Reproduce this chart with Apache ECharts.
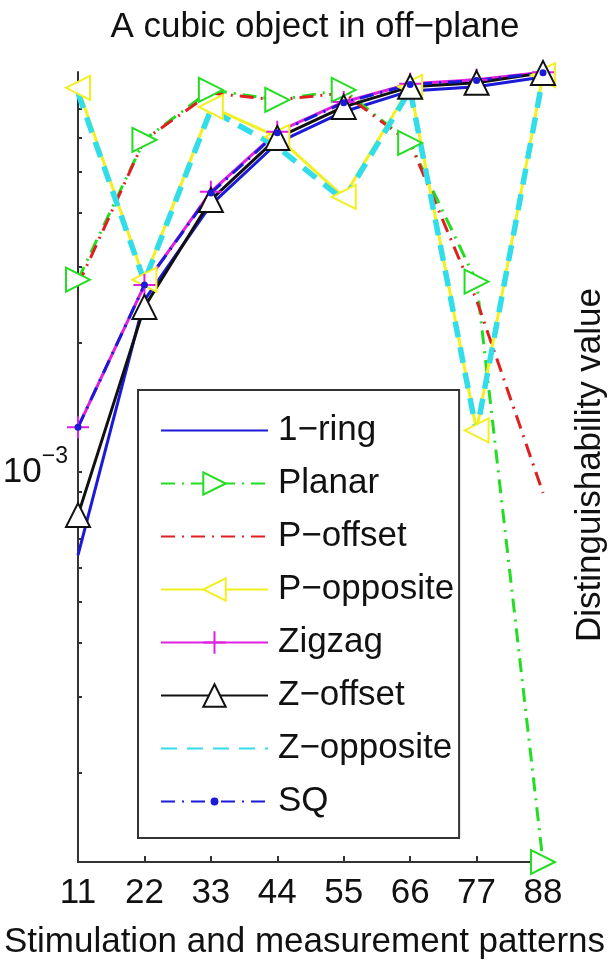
<!DOCTYPE html>
<html>
<head>
<meta charset="utf-8">
<script src="https://cdn.jsdelivr.net/npm/echarts@6/dist/echarts.min.js"></script>
<style>html,body{margin:0;padding:0;background:#fff}#c{width:609px;height:961px}</style>
</head>
<body>
<div id="c"></div>
<script>
const categories = ['11', '22', '33', '44', '55', '66', '77', '88'];
const oneRing   = [6.41e-4, 2.51e-3, 4.18e-3, 5.82e-3, 6.88e-3, 7.69e-3, 7.86e-3, 8.29e-3];
const planar    = [2.80e-3, 5.92e-3, 7.73e-3, 7.33e-3, 7.73e-3, 5.82e-3, 2.77e-3, 1.24e-4];
const pOffset   = [2.72e-3, 5.92e-3, 7.60e-3, 7.33e-3, 7.60e-3, 5.82e-3, 2.51e-3, 8.94e-4];
const pOpposite = [7.82e-3, 2.80e-3, 7.06e-3, 6.01e-3, 4.36e-3, 7.86e-3, 1.25e-3, 8.37e-3];
const zigzag    = [1.27e-3, 2.72e-3, 4.48e-3, 6.18e-3, 7.25e-3, 7.99e-3, 8.16e-3, 8.50e-3];
const zOffset   = [7.94e-4, 2.42e-3, 4.29e-3, 5.98e-3, 7.06e-3, 7.86e-3, 8.03e-3, 8.47e-3];
const zOpposite = [7.61e-3, 2.77e-3, 6.95e-3, 5.70e-3, 4.29e-3, 7.73e-3, 1.24e-3, 8.29e-3];
const sq        = [1.27e-3, 2.72e-3, 4.45e-3, 6.15e-3, 7.22e-3, 7.96e-3, 8.13e-3, 8.48e-3];
const yMin = 1.24e-4, yMax = 8.51e-3;
const yTickValues = [2e-4, 3e-4, 4e-4, 5e-4, 6e-4, 7e-4, 8e-4, 9e-4, 1e-3, 2e-3, 3e-3, 4e-3, 5e-3, 6e-3, 7e-3, 8e-3];
const yLabelValues = [1e-3];
const titleText = 'A cubic object in off\u2212plane';
const xName = 'Stimulation and measurement patterns';
const yName = 'Distinguishability value';

const FONT = '"Liberation Sans", Arial, Helvetica, sans-serif';
const FS = 35;
const dashDot = [14, 7, 2, 7];

function mk(name, data, color, width, type, symbol, symbolSize, extra) {
  return Object.assign({
    name, type: 'line', data, clip: false,
    lineStyle: { color, width, type },
    itemStyle: { color, borderColor: color, borderWidth: 2 },
    symbol: symbol || 'none', symbolSize: symbolSize || 0,
    showSymbol: !!symbol,
    emphasis: { disabled: true }, animation: false
  }, extra || {});
}

const plusPath = 'path://M5,0 L5,10 M0,5 L10,5';
const dotPath = 'path://M0,0 L0.01,0 Z M20,20 L19.99,20 Z M13.5,10 A3.5,3.5 0 1,1 6.5,10 A3.5,3.5 0 1,1 13.5,10 Z';
const noMark = { itemStyle: { opacity: 0 } };

const chart = echarts.init(document.getElementById('c'), null, { renderer: 'canvas' });
chart.setOption({
  backgroundColor: '#fff',
  animation: false,
  title: {
    text: titleText, left: 310, textAlign: 'center', top: 5,
    textStyle: { fontFamily: FONT, fontSize: FS, fontWeight: 'normal', color: '#111' }
  },
  grid: { left: 78, right: 66, top: 72, bottom: 99, outerBoundsMode: 'none', containLabel: false },
  legend: {
    orient: 'vertical', left: 138, top: 390,
    padding: [23, 5, 19, 22],
    itemWidth: 107, itemHeight: 28, itemGap: 18,
    borderColor: '#333', borderWidth: 2, backgroundColor: '#fff',
    textStyle: { fontFamily: FONT, fontSize: FS, color: '#111', lineHeight: 35, padding: [0, 0, 0, 5] },
    data: [
      Object.assign({ name: '1\u2212ring' }, noMark),
      { name: 'Planar' },
      Object.assign({ name: 'P\u2212offset' }, noMark),
      { name: 'P\u2212opposite' },
      { name: 'Zigzag' },
      { name: 'Z\u2212offset' },
      Object.assign({ name: 'Z\u2212opposite' }, noMark),
      { name: 'SQ' }
    ],
    selectedMode: false
  },
  xAxis: {
    type: 'category', data: categories, boundaryGap: false,
    axisLine: { lineStyle: { color: '#333', width: 2 } },
    axisTick: { inside: true, length: 6, lineStyle: { color: '#333', width: 2 } },
    axisLabel: { fontFamily: FONT, fontSize: FS, color: '#111', margin: 14 },
    name: xName, nameLocation: 'middle', nameGap: 63,
    nameTextStyle: { fontFamily: FONT, fontSize: FS, color: '#111', padding: [0, 12, 0, 0] },
    splitLine: { show: false }
  },
  yAxis: {
    type: 'log', min: yMin, max: yMax, logBase: 10,
    axisLine: { show: true, lineStyle: { color: '#333', width: 2 } },
    axisTick: { show: true, inside: true, length: 4, customValues: yTickValues, lineStyle: { color: '#333', width: 2 } },
    axisLabel: {
      customValues: yLabelValues, margin: 10,
      formatter: () => '{b|10}{s|\u22123}',
      rich: {
        b: { fontFamily: FONT, fontSize: FS, color: '#111' },
        s: { fontFamily: FONT, fontSize: 23, color: '#111', padding: [0, 0, 30, 0] }
      }
    },
    splitLine: { show: false }
  },
  graphic: [{
    type: 'text', x: 590, y: 465, rotation: Math.PI / 2,
    style: { text: yName, fontFamily: FONT, fontSize: FS, fill: '#111', align: 'center', verticalAlign: 'middle' }
  }],
  series: [
    mk('1\u2212ring', oneRing, '#1a1ad8', 3, 'solid'),
    mk('Planar', planar, '#22dd22', 3, dashDot, 'emptyTriangle', 24, { symbolRotate: -90 }),
    mk('P\u2212offset', pOffset, '#e02020', 3, dashDot),
    mk('P\u2212opposite', pOpposite, '#f2f020', 3, 'solid', 'emptyTriangle', 24, { symbolRotate: 90 }),
    mk('Zigzag', zigzag, '#e020e0', 3, 'solid', plusPath, 22),
    mk('Z\u2212offset', zOffset, '#111111', 3, 'solid', 'emptyTriangle', 24),
    mk('Z\u2212opposite', zOpposite, '#30dde8', 5.5, [16, 10]),
    mk('SQ', sq, '#1a1ad8', 3, dashDot, dotPath, 20, { itemStyle: { color: '#1a1ad8', borderWidth: 0 } })
  ]
});
</script>
</body>
</html>
